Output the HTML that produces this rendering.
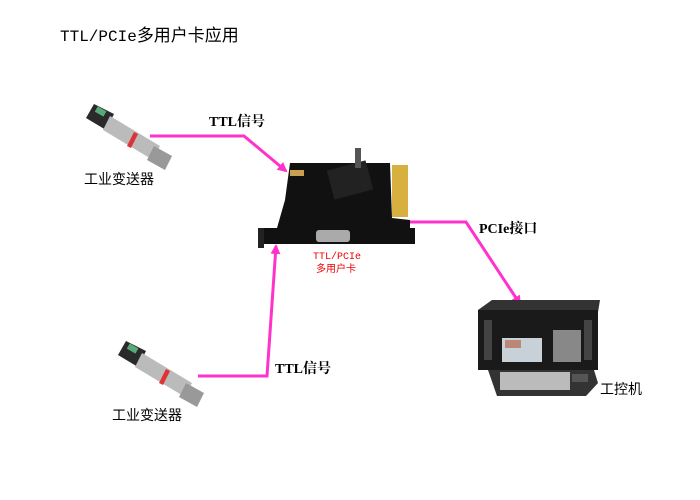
<!DOCTYPE html>
<html><head><meta charset="utf-8"><style>
body{margin:0;background:#fff;}
.s{font-family:"Liberation Sans","Noto Sans CJK SC",sans-serif;}
.r{font-family:"Liberation Serif","Noto Serif CJK SC",serif;font-weight:bold;}
.m{font-family:"Liberation Mono","Noto Sans CJK SC",monospace;}
</style></head><body>
<svg width="700" height="495" viewBox="0 0 700 495" xmlns="http://www.w3.org/2000/svg">
<defs>
<marker id="ar" markerWidth="10" markerHeight="10" refX="8" refY="5" orient="auto" markerUnits="userSpaceOnUse">
<path d="M0,0 L10,5 L0,10 Z" fill="#ff33cc"/></marker>
<g id="tx">
<polygon points="6,-2 26,8 18,24 -2,12" fill="#2a2a2a"/>
<rect x="8" y="1" width="10" height="6" fill="#5a7" transform="rotate(30 10 4)"/>
<polygon points="22,10 72,40 65,54 15,24" fill="#bbb"/>
<polygon points="46,26 50,28 43,42 39,40" fill="#d33"/>
<polygon points="66,40 84,50 77,64 59,54" fill="#999"/>
</g>
</defs>
<text class="m" x="60" y="41" font-size="16" fill="#000">TTL/PCIe<tspan font-size="17" class="s">多用户卡应用</tspan></text>
<use href="#tx" x="88" y="106"/>
<use href="#tx" x="120" y="343"/>
<text class="s" x="84" y="184" font-size="14">工业变送器</text>
<text class="s" x="112" y="420" font-size="14">工业变送器</text>
<polyline points="150,136 244,136 286,171" fill="none" stroke="#ff33cc" stroke-width="3" marker-end="url(#ar)"/>
<polyline points="198,376 267,376 276,246" fill="none" stroke="#ff33cc" stroke-width="3" marker-end="url(#ar)"/>
<polyline points="408,222 466,222 520,304" fill="none" stroke="#ff33cc" stroke-width="3" marker-end="url(#ar)"/>
<text class="r" x="209" y="126" font-size="14">TTL信号</text>
<text class="r" x="275" y="373" font-size="14">TTL信号</text>
<text class="r" x="479" y="233" font-size="14">PCIe接口</text>
<polygon points="290,163 390,163 392,218 410,220 410,228 277,228 285,200" fill="#111"/>
<rect x="392" y="165" width="16" height="52" fill="#d8b040"/>
<rect x="330" y="165" width="40" height="30" fill="#222" transform="rotate(-15 350 180)"/>
<rect x="355" y="148" width="6" height="20" fill="#555"/>
<rect x="290" y="170" width="14" height="6" fill="#c9a050"/>
<rect x="258" y="228" width="157" height="16" fill="#111"/>
<rect x="258" y="228" width="6" height="20" fill="#222"/>
<rect x="316" y="230" width="34" height="12" rx="3" fill="#aaa"/>
<text class="m" x="313" y="259" font-size="10" fill="#e00">TTL/PCIe</text>
<text class="m" x="316" y="272" font-size="10" fill="#e00">多用户卡</text>
<polygon points="478,310 492,300 600,300 598,312" fill="#333"/>
<rect x="478" y="310" width="120" height="60" fill="#1a1a1a"/>
<rect x="484" y="320" width="8" height="40" fill="#444"/>
<rect x="584" y="320" width="8" height="40" fill="#444"/>
<rect x="502" y="338" width="40" height="24" fill="#c8d0d8"/>
<rect x="505" y="340" width="16" height="8" fill="#b87"/>
<rect x="553" y="330" width="28" height="32" fill="#888"/>
<polygon points="488,370 594,370 598,383 586,396 497,396" fill="#333"/>
<rect x="500" y="372" width="70" height="18" fill="#bbb"/>
<rect x="572" y="374" width="16" height="8" fill="#555"/>
<text class="s" x="600" y="394" font-size="14">工控机</text>
</svg>
</body></html>
